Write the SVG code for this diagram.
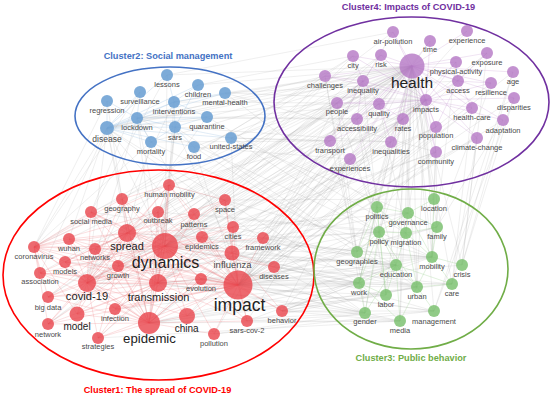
<svg xmlns="http://www.w3.org/2000/svg" width="554" height="395" viewBox="0 0 554 395">
<style>
.ex{stroke:#9a9a9a;stroke-opacity:.27;stroke-width:.6;fill:none}
.er{stroke:#e8585e;stroke-opacity:.23;stroke-width:.8;fill:none}
.ep{stroke:#b57cc4;stroke-opacity:.3;stroke-width:.7;fill:none}
.eb{stroke:#8fb6de;stroke-opacity:.45;stroke-width:.6;fill:none}
.eg{stroke:#8fcc85;stroke-opacity:.45;stroke-width:.6;fill:none}
.cl{fill:none;stroke-width:1.6}
.nr circle{fill:#e8434b;fill-opacity:.8}
.nb circle{fill:#6b9fd3;fill-opacity:.88}
.np circle{fill:#b477c4;fill-opacity:.8}
.ng circle{fill:#79c06d;fill-opacity:.82}
text{font-family:"Liberation Sans",Arial,sans-serif;font-size:7.5px;fill:#4a4a4a;text-anchor:middle}
.t{font-weight:bold;font-size:9.2px}
.big{fill:#222}
</style>
<g id="connectors">
<path class="ex" d="M165 246L412 66M165 246L426 100M165 246L363 81M165 246L379 104M165 246L391 142M165 246L436 127M165 246L403 119M165 246L330 141M165 246L325 76M165 246L381 55M165 246L353 56M165 246L379 232M165 246L432 257M165 246L396 265M165 246L377 207M165 246L359 283M165 246L107 128M165 246L137 118M165 246L175 127M165 246L174 102M165 246L167 75
M238 285L412 66M238 285L426 100M238 285L363 81M238 285L337 103M238 285L357 119M238 285L403 119M238 285L477 138M238 285L436 152M238 285L350 159M238 285L503 120M238 285L487 53M238 285L456 62M238 285L472 108M238 285L408 213M238 285L379 232M238 285L406 233M238 285L432 257M238 285L396 265M238 285L359 283M238 285L452 284M238 285L417 287M238 285L434 311M238 285L365 313M238 285L400 321M238 285L437 227M238 285L462 265M238 285L357 252M238 285L107 128M238 285L137 118M238 285L231 138M238 285L194 147
M149 323L412 66M149 323L426 100M149 323L391 142M149 323L359 283M149 323L365 313M149 323L400 321M149 323L386 295M149 323L107 128M149 323L175 127
M158 283L412 66M158 283L403 119M158 283L436 127M158 283L432 257M158 283L396 265M158 283L137 118M158 283L175 127
M87 283L412 66M87 283L426 100M87 283L363 81M87 283L330 141M87 283L379 232M87 283L386 295M87 283L137 118M87 283L107 128M87 283L174 102M87 283L207 117
M127 233L412 66M127 233L393 32M127 233L381 55M127 233L432 257M127 233L107 128M127 233L151 142
M34 247L107 101M34 247L107 128M34 247L151 142M34 247L140 92M34 247L412 66M34 247L325 76
M91 212L140 92M91 212L167 75M91 212L412 66M91 212L357 252
M232 253L412 66M232 253L487 53M232 253L396 265M232 253L175 127
M263 238L412 66M263 238L426 100M263 238L408 213M263 238L379 232
M274 267L412 66M274 267L472 108M274 267L359 283M274 267L452 284
M282 311L412 66M282 311L365 313M282 311L400 321M282 311L386 295M282 311L359 283M282 311L434 311M282 311L436 152
M247 321L412 66M247 321L396 265M247 321L417 287
M214 334L393 32M214 334L365 313M214 334L434 311
M98 338L412 66M98 338L400 321M48 324L412 66M48 324L337 103M48 297L412 66M48 297L337 103
M187 316L412 66M187 316L426 100M187 316L432 257M187 316L452 284
M40 273L412 66M40 273L107 128M69 239L107 128M69 239L412 66M122 199L353 56M122 199L107 101
M202 237L432 257M202 237L417 287M202 237L426 100M202 237L412 66M233 227L408 213M233 227L396 265M233 227L436 127M233 227L436 152
M194 214L406 233M194 214L379 104M194 214L412 66M225 200L363 81M225 200L434 199M225 200L403 119M158 212L412 66M158 212L379 232
M201 279L452 284M201 279L434 311M201 279L477 138M115 309L359 283M115 309L391 142M118 266L432 257M118 266L403 119
M95 249L357 119M95 249L396 265M65 262L412 66M65 262L417 287M169 185L353 56M169 185L432 257M169 185L330 141
M263 238L396 265M263 238L417 287M263 238L350 159M274 267L437 227M274 267L365 313M282 311L417 287M282 311L396 265M282 311L432 257
M247 321L434 311M247 321L400 321M232 253L434 311M232 253L359 283M158 283L365 313M158 283L400 321M158 283L359 283M149 323L417 287M149 323L396 265
M238 285L513 72M238 285L514 98M238 285L491 83M238 285L467 31M238 285L430 41M165 246L417 287M165 246L365 313M165 246L350 159M165 246L436 152
M325 76L357 252M325 76L359 283M337 103L379 232M337 103L365 313M357 119L396 265M357 119L386 295M403 119L417 287M403 119L400 321M379 104L406 233M363 81L377 207M487 53L462 265M491 83L437 227M456 62L432 257
M107 128L359 283M107 128L365 313M151 142L396 265M207 117L406 233M175 127L417 287
M107 128L412 66M107 128L426 100M107 128L325 76M107 128L363 81M137 118L412 66M137 118L337 103M137 118L357 119
M225 93L412 66M225 93L458 81M225 93L426 100M225 93L436 152M231 138L412 66M231 138L330 141M231 138L337 103M231 138L391 142
M194 147L412 66M194 147L350 159M198 85L412 66M198 85L353 56M167 75L412 66M167 75L393 32M207 117L412 66M207 117L403 119
M174 102L412 66M174 102L337 103M175 127L391 142M151 142L412 66M151 142L330 141
M225 93L377 207M231 138L408 213M231 138L379 232M194 147L357 252M137 118L432 257
M412 66L434 199M412 66L377 207M412 66L408 213M412 66L437 227M412 66L379 232M412 66L406 233M412 66L357 252M412 66L432 257M412 66L396 265M412 66L462 265M412 66L359 283M412 66L452 284M412 66L417 287M412 66L386 295M412 66L434 311M412 66L365 313M412 66L400 321
M426 100L408 213M426 100L379 232M426 100L432 257M426 100L417 287M391 142L357 252M391 142L359 283M436 152L434 199M436 152L437 227
M477 138L462 265M477 138L452 284M503 120L462 265M503 120L437 227M513 72L452 284M513 72L434 311M514 98L462 265M514 98L434 311
M436 127L432 257M330 141L357 252M350 159L377 207M472 108L452 284"/>
<path class="er" d="M165 246L169 185M165 246L122 199M165 246L225 200M165 246L91 212M165 246L158 212M165 246L194 214M165 246L233 227M165 246L127 233M165 246L202 237M165 246L263 238M165 246L69 239M165 246L34 247M165 246L95 249M165 246L232 253M165 246L65 262M165 246L118 266M165 246L274 267M165 246L40 273M165 246L201 279M165 246L87 283M165 246L158 283M165 246L238 285M165 246L48 297M165 246L115 309M165 246L282 311M165 246L77 314M165 246L187 316M165 246L247 321M165 246L149 323M165 246L48 324M165 246L214 334M165 246L98 338
M238 285L169 185M238 285L122 199M238 285L225 200M238 285L91 212M238 285L158 212M238 285L194 214M238 285L233 227M238 285L127 233M238 285L202 237M238 285L263 238M238 285L69 239M238 285L34 247M238 285L95 249M238 285L232 253M238 285L65 262M238 285L118 266M238 285L274 267M238 285L40 273M238 285L201 279M238 285L87 283M238 285L158 283M238 285L48 297M238 285L115 309M238 285L282 311M238 285L77 314M238 285L187 316M238 285L247 321M238 285L149 323M238 285L48 324M238 285L214 334M238 285L98 338
M149 323L169 185M149 323L122 199M149 323L91 212M149 323L158 212M149 323L127 233M149 323L69 239M149 323L34 247M149 323L95 249M149 323L65 262M149 323L118 266M149 323L40 273M149 323L87 283M149 323L158 283M149 323L48 297M149 323L115 309M149 323L77 314M149 323L187 316M149 323L247 321M149 323L48 324M149 323L214 334M149 323L98 338M149 323L202 237M149 323L232 253M149 323L201 279
M158 283L169 185M158 283L122 199M158 283L91 212M158 283L158 212M158 283L194 214M158 283L127 233M158 283L69 239M158 283L34 247M158 283L95 249M158 283L65 262M158 283L40 273M158 283L87 283M158 283L48 297M158 283L115 309M158 283L77 314M158 283L187 316M158 283L247 321M158 283L48 324M158 283L98 338M158 283L232 253M158 283L202 237M158 283L201 279M158 283L233 227
M87 283L169 185M87 283L122 199M87 283L91 212M87 283L158 212M87 283L194 214M87 283L127 233M87 283L69 239M87 283L34 247M87 283L95 249M87 283L65 262M87 283L40 273M87 283L48 297M87 283L115 309M87 283L77 314M87 283L187 316M87 283L48 324M87 283L98 338M87 283L232 253M87 283L233 227M87 283L202 237M87 283L225 200
M127 233L169 185M127 233L122 199M127 233L91 212M127 233L158 212M127 233L194 214M127 233L69 239M127 233L34 247M127 233L95 249M127 233L65 262M127 233L40 273M127 233L48 297M127 233L77 314M127 233L48 324M127 233L98 338M127 233L232 253M127 233L202 237M127 233L233 227M127 233L225 200
M34 247L122 199M34 247L91 212M34 247L69 239M34 247L95 249M34 247L65 262M34 247L40 273M34 247L48 297M34 247L77 314M34 247L48 324M34 247L158 212M34 247L169 185
M169 185L158 212M169 185L194 214M169 185L122 199M169 185L225 200
M232 253L225 200M232 253L233 227M232 253L202 237M232 253L263 238M232 253L274 267M232 253L247 321M232 253L282 311"/>
<path class="ep" d="M412 66L393 32M412 66L467 31M412 66L430 41M412 66L487 53M412 66L353 56M412 66L381 55M412 66L456 62M412 66L513 72M412 66L325 76M412 66L363 81M412 66L458 81M412 66L491 83M412 66L514 98M412 66L426 100M412 66L337 103M412 66L379 104M412 66L472 108M412 66L357 119M412 66L403 119M412 66L503 120M412 66L436 127M412 66L477 138M412 66L330 141M412 66L391 142M412 66L436 152M412 66L350 159
M426 100L393 32M426 100L430 41M426 100L353 56M426 100L381 55M426 100L456 62M426 100L325 76M426 100L363 81M426 100L458 81M426 100L491 83M426 100L337 103M426 100L379 104M426 100L472 108M426 100L357 119M426 100L403 119M426 100L503 120M426 100L436 127M426 100L477 138M426 100L330 141M426 100L391 142M426 100L436 152M426 100L350 159M426 100L514 98
M363 81L353 56M363 81L381 55M363 81L325 76M363 81L337 103M363 81L379 104M363 81L357 119M363 81L330 141
M458 81L487 53M458 81L456 62M458 81L491 83M458 81L472 108M458 81L436 127
M379 104L337 103M379 104L357 119M379 104L403 119M379 104L391 142"/>
<path class="eb" d="M107 128L167 75M107 128L198 85M107 128L225 93M107 128L140 92M107 128L174 102M107 128L107 101M107 128L137 118M107 128L207 117M107 128L175 127M107 128L151 142M107 128L231 138M107 128L194 147
M137 118L140 92M137 118L174 102M137 118L107 101M137 118L175 127M137 118L151 142M137 118L207 117
M175 127L174 102M175 127L207 117M175 127L151 142M175 127L231 138M175 127L194 147M175 127L198 85
M174 102L167 75M174 102L198 85M174 102L225 93M174 102L207 117"/>
<path class="eg" d="M377 207L408 213M377 207L379 232M377 207L406 233M377 207L357 252M377 207L359 283M377 207L386 295
M379 232L408 213M379 232L406 233M379 232L357 252M379 232L396 265M379 232L359 283M379 232L386 295M379 232L365 313M379 232L417 287
M406 233L408 213M406 233L432 257M406 233L396 265M406 233L417 287M406 233L437 227
M408 213L434 199M408 213L437 227M408 213L432 257
M396 265L359 283M396 265L417 287M396 265L386 295M396 265L400 321M396 265L365 313M396 265L452 284
M359 283L386 295M359 283L365 313M359 283L400 321M417 287L452 284M417 287L434 311M417 287L400 321
M432 257L462 265M432 257L452 284M432 257L417 287M432 257L437 227M432 257L434 199"/>
</g>
<g id="clusters">
<g id="cluster1"><ellipse class="cl" cx="158.5" cy="275" rx="155.5" ry="105" stroke="#ff0000"/><text class="t" x="157.5" y="392.5" style="fill:#ff0000">Cluster1: The spread of COVID-19</text></g>
<g id="cluster2"><ellipse class="cl" cx="170" cy="116" rx="95" ry="49" stroke="#4472c4"/><text class="t" x="168" y="58.5" style="fill:#4472c4">Cluster2: Social management</text></g>
<g id="cluster3"><ellipse class="cl" cx="411" cy="269" rx="97" ry="80" stroke="#70ad47"/><text class="t" x="411" y="361" style="fill:#70ad47">Cluster3: Public behavior</text></g>
<g id="cluster4"><ellipse class="cl" cx="411.5" cy="102" rx="137.5" ry="85" stroke="#7030a0"/><text class="t" x="408.5" y="10" style="fill:#7030a0">Cluster4: Impacts of COVID-19</text></g>
</g>
<g id="n-lessons" class="nb"><circle cx="167" cy="75" r="6"/><text x="167" y="86.7">lessons</text></g>
<g id="n-children" class="nb"><circle cx="198" cy="85" r="6"/><text x="198" y="96.7">children</text></g>
<g id="n-mental-health" class="nb"><circle cx="225" cy="93" r="6"/><text x="225" y="104.7">mental-health</text></g>
<g id="n-surveillance" class="nb"><circle cx="140" cy="92" r="6"/><text x="140" y="104.4">surveillance</text></g>
<g id="n-interventions" class="nb"><circle cx="174" cy="102" r="6"/><text x="174" y="113.7">interventions</text></g>
<g id="n-regression" class="nb"><circle cx="107" cy="101" r="6"/><text x="107" y="112.7">regression</text></g>
<g id="n-lockdown" class="nb"><circle cx="137" cy="118" r="6"/><text x="137" y="129.7">lockdown</text></g>
<g id="n-quarantine" class="nb"><circle cx="207" cy="117" r="6"/><text x="207" y="128.7">quarantine</text></g>
<g id="n-disease" class="nb"><circle cx="107" cy="128" r="7"/><text x="107" y="142" style="font-size:8.5px">disease</text></g>
<g id="n-sars" class="nb"><circle cx="175" cy="127" r="6"/><text x="175" y="139.7">sars</text></g>
<g id="n-mortality" class="nb"><circle cx="151" cy="142" r="6"/><text x="151" y="153.7">mortality</text></g>
<g id="n-united-states" class="nb"><circle cx="231" cy="138" r="6"/><text x="231" y="149.4">united-states</text></g>
<g id="n-food" class="nb"><circle cx="194" cy="147" r="6"/><text x="194" y="158.7">food</text></g>
<g id="n-air-pollution" class="np"><circle cx="393" cy="32" r="6"/><text x="393" y="44.4">air-pollution</text></g>
<g id="n-experience" class="np"><circle cx="467" cy="31" r="6"/><text x="467" y="43">experience</text></g>
<g id="n-time" class="np"><circle cx="430" cy="41" r="6"/><text x="430" y="52">time</text></g>
<g id="n-exposure" class="np"><circle cx="487" cy="53" r="6"/><text x="487" y="65.4">exposure</text></g>
<g id="n-city" class="np"><circle cx="353" cy="56" r="6"/><text x="353" y="68.4">city</text></g>
<g id="n-risk" class="np"><circle cx="381" cy="55" r="6"/><text x="381" y="66.7">risk</text></g>
<g id="n-physical-activity" class="np"><circle cx="456" cy="62" r="6"/><text x="456" y="73.7">physical-activity</text></g>
<g id="n-health" class="np"><circle cx="412" cy="66" r="12.5"/><text x="412" y="88.3" class="big" style="font-size:15.5px">health</text></g>
<g id="n-age" class="np"><circle cx="513" cy="72" r="6"/><text x="513" y="84">age</text></g>
<g id="n-challenges" class="np"><circle cx="325" cy="76" r="6"/><text x="325" y="88.4">challenges</text></g>
<g id="n-inequality" class="np"><circle cx="363" cy="81" r="6"/><text x="363" y="92.7">inequality</text></g>
<g id="n-access" class="np"><circle cx="458" cy="81" r="6"/><text x="458" y="93.4">access</text></g>
<g id="n-resilience" class="np"><circle cx="491" cy="83" r="6"/><text x="491" y="95.4">resilience</text></g>
<g id="n-disparities" class="np"><circle cx="514" cy="98" r="6"/><text x="514" y="110">disparities</text></g>
<g id="n-impacts" class="np"><circle cx="426" cy="100" r="6"/><text x="426" y="111.7">impacts</text></g>
<g id="n-people" class="np"><circle cx="337" cy="103" r="6"/><text x="337" y="114.4">people</text></g>
<g id="n-quality" class="np"><circle cx="379" cy="104" r="6"/><text x="379" y="116">quality</text></g>
<g id="n-health-care" class="np"><circle cx="472" cy="108" r="6"/><text x="472" y="120">health-care</text></g>
<g id="n-accessibility" class="np"><circle cx="357" cy="119" r="6"/><text x="357" y="131">accessibility</text></g>
<g id="n-rates" class="np"><circle cx="403" cy="119" r="6"/><text x="403" y="131">rates</text></g>
<g id="n-adaptation" class="np"><circle cx="503" cy="120" r="6"/><text x="503" y="132.7">adaptation</text></g>
<g id="n-population" class="np"><circle cx="436" cy="127" r="6"/><text x="436" y="138.4">population</text></g>
<g id="n-climate-change" class="np"><circle cx="477" cy="138" r="6"/><text x="477" y="150.4">climate-change</text></g>
<g id="n-transport" class="np"><circle cx="330" cy="141" r="6"/><text x="330" y="152.7">transport</text></g>
<g id="n-inequalities" class="np"><circle cx="391" cy="142" r="6"/><text x="391" y="154">inequalities</text></g>
<g id="n-community" class="np"><circle cx="436" cy="152" r="6"/><text x="436" y="164">community</text></g>
<g id="n-experiences" class="np"><circle cx="350" cy="159" r="6"/><text x="350" y="170.7">experiences</text></g>
<g id="n-location" class="ng"><circle cx="434" cy="199" r="6"/><text x="434" y="211">location</text></g>
<g id="n-politics" class="ng"><circle cx="377" cy="207" r="6"/><text x="377" y="219.4">politics</text></g>
<g id="n-governance" class="ng"><circle cx="408" cy="213" r="6"/><text x="408" y="225">governance</text></g>
<g id="n-family" class="ng"><circle cx="437" cy="227" r="6"/><text x="437" y="239.4">family</text></g>
<g id="n-policy" class="ng"><circle cx="379" cy="232" r="6"/><text x="379" y="244.4">policy</text></g>
<g id="n-migration" class="ng"><circle cx="406" cy="233" r="6"/><text x="406" y="245.4">migration</text></g>
<g id="n-geographies" class="ng"><circle cx="357" cy="252" r="6"/><text x="357" y="263.7">geographies</text></g>
<g id="n-mobility" class="ng"><circle cx="432" cy="257" r="6"/><text x="432" y="269.4">mobility</text></g>
<g id="n-education" class="ng"><circle cx="396" cy="265" r="6"/><text x="396" y="277">education</text></g>
<g id="n-crisis" class="ng"><circle cx="462" cy="265" r="6"/><text x="462" y="277">crisis</text></g>
<g id="n-work" class="ng"><circle cx="359" cy="283" r="6"/><text x="359" y="295">work</text></g>
<g id="n-care" class="ng"><circle cx="452" cy="284" r="6"/><text x="452" y="296">care</text></g>
<g id="n-urban" class="ng"><circle cx="417" cy="287" r="6"/><text x="417" y="298.7">urban</text></g>
<g id="n-labor" class="ng"><circle cx="386" cy="295" r="6"/><text x="386" y="307">labor</text></g>
<g id="n-management" class="ng"><circle cx="434" cy="311" r="6"/><text x="434" y="323.7">management</text></g>
<g id="n-gender" class="ng"><circle cx="365" cy="313" r="6"/><text x="365" y="324.4">gender</text></g>
<g id="n-media" class="ng"><circle cx="400" cy="321" r="6"/><text x="400" y="333">media</text></g>
<g id="n-human-mobility" class="nr"><circle cx="169" cy="185" r="6"/><text x="169.5" y="197">human mobility</text></g>
<g id="n-geography" class="nr"><circle cx="122" cy="199" r="6"/><text x="122" y="211.4">geography</text></g>
<g id="n-space" class="nr"><circle cx="225" cy="200" r="6"/><text x="225" y="212">space</text></g>
<g id="n-social-media" class="nr"><circle cx="91" cy="212" r="6"/><text x="91" y="224.4">social media</text></g>
<g id="n-outbreak" class="nr"><circle cx="158" cy="212" r="6"/><text x="158" y="223.4">outbreak</text></g>
<g id="n-patterns" class="nr"><circle cx="194" cy="214" r="6"/><text x="194" y="226.7">patterns</text></g>
<g id="n-cities" class="nr"><circle cx="233" cy="227" r="6"/><text x="233" y="238.7">cities</text></g>
<g id="n-spread" class="nr"><circle cx="127" cy="233" r="9"/><text x="127" y="249.5" class="big" style="font-size:11px">spread</text></g>
<g id="n-epidemics" class="nr"><circle cx="202" cy="237" r="6"/><text x="202" y="248.7">epidemics</text></g>
<g id="n-framework" class="nr"><circle cx="263" cy="238" r="6"/><text x="263" y="250">framework</text></g>
<g id="n-wuhan" class="nr"><circle cx="69" cy="239" r="6"/><text x="69" y="250.7">wuhan</text></g>
<g id="n-coronavirus" class="nr"><circle cx="34" cy="247" r="6"/><text x="34" y="258.7">coronavirus</text></g>
<g id="n-networks" class="nr"><circle cx="95" cy="249" r="6"/><text x="95" y="260.4">networks</text></g>
<g id="n-influenza" class="nr"><circle cx="232" cy="253" r="7.5"/><text x="232.5" y="267.7" style="font-size:9.5px">influenza</text></g>
<g id="n-models" class="nr"><circle cx="65" cy="262" r="6"/><text x="65" y="274">models</text></g>
<g id="n-growth" class="nr"><circle cx="118" cy="266" r="6"/><text x="118" y="278">growth</text></g>
<g id="n-diseases" class="nr"><circle cx="274" cy="267" r="6"/><text x="274" y="278.7">diseases</text></g>
<g id="n-association" class="nr"><circle cx="40" cy="273" r="6"/><text x="40" y="284">association</text></g>
<g id="n-evolution" class="nr"><circle cx="201" cy="279" r="6"/><text x="201" y="291">evolution</text></g>
<g id="n-covid-19" class="nr"><circle cx="87" cy="283" r="9"/><text x="87" y="300" class="big" style="font-size:11.2px">covid-19</text></g>
<g id="n-transmission" class="nr"><circle cx="158" cy="283" r="9"/><text x="158.5" y="300.7" class="big" style="font-size:11px">transmission</text></g>
<g id="n-impact" class="nr"><circle cx="238" cy="285" r="14.5"/><text x="239.5" y="311" class="big" style="font-size:17.5px">impact</text></g>
<g id="n-dynamics" class="nr"><circle cx="165" cy="246" r="13"/><text x="165.5" y="268.3" class="big" style="font-size:16px">dynamics</text></g>
<g id="n-big-data" class="nr"><circle cx="48" cy="297" r="6"/><text x="48" y="310">big data</text></g>
<g id="n-infection" class="nr"><circle cx="115" cy="309" r="6"/><text x="115" y="321.4">infection</text></g>
<g id="n-behavior" class="nr"><circle cx="282" cy="311" r="6"/><text x="282" y="323.4">behavior</text></g>
<g id="n-model" class="nr"><circle cx="77" cy="314" r="7.5"/><text x="77" y="330" class="big" style="font-size:10px">model</text></g>
<g id="n-china" class="nr"><circle cx="187" cy="316" r="8"/><text x="186.7" y="331.5" class="big" style="font-size:10px">china</text></g>
<g id="n-sars-cov-2" class="nr"><circle cx="247" cy="321" r="6"/><text x="247" y="333">sars-cov-2</text></g>
<g id="n-epidemic" class="nr"><circle cx="149" cy="323" r="11"/><text x="149.5" y="343.3" class="big" style="font-size:13.2px">epidemic</text></g>
<g id="n-network" class="nr"><circle cx="48" cy="324" r="6"/><text x="48" y="336.7">network</text></g>
<g id="n-pollution" class="nr"><circle cx="214" cy="334" r="6"/><text x="214" y="346">pollution</text></g>
<g id="n-strategies" class="nr"><circle cx="98" cy="338" r="6"/><text x="98" y="349.4">strategies</text></g>
</svg>
